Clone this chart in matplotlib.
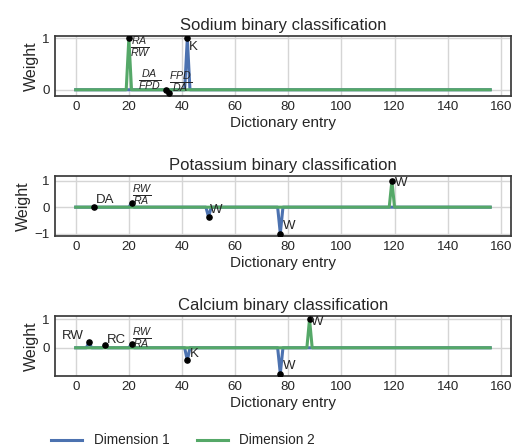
import matplotlib
matplotlib.use("Agg")
import matplotlib.pyplot as plt
import numpy as np

plt.rcParams['font.family'] = ['Liberation Sans', 'DejaVu Sans']
plt.rcParams['mathtext.fontset'] = 'custom'
plt.rcParams['mathtext.it'] = 'Liberation Sans:italic'
plt.rcParams['mathtext.rm'] = 'Liberation Sans'
plt.rcParams['text.color'] = '#262626'
plt.rcParams['axes.labelcolor'] = '#262626'
plt.rcParams['xtick.color'] = '#262626'
plt.rcParams['ytick.color'] = '#262626'

n_entries = 157
titles = ['Sodium binary classification',
          'Potassium binary classification',
          'Calcium binary classification']

# non-zero weights (entry -> weight), everything else is zero
sodium_dim1 = {34: -0.01, 35: -0.07, 42: 1.0}
sodium_dim2 = {20: 1.0}
potassium_dim1 = {7: 0.02, 21: 0.15, 50: -0.37, 77: -1.0}
potassium_dim2 = {119: 1.0}
calcium_dim1 = {5: 0.19, 11: 0.08, 21: 0.13, 42: -0.44, 77: -0.9}
calcium_dim2 = {88: 1.0}

# highlighted entries and their labels
sodium_labels = {20: r'$\frac{RA}{RW}$', 34: r'$\frac{DA}{FPD}$',
                 35: r'$\frac{FPD}{DA}$', 42: 'K'}
potassium_labels = {7: 'DA', 21: r'$\frac{RW}{RA}$', 50: 'W', 77: 'W', 119: 'W'}
calcium_labels = {5: 'RW', 11: 'RC', 21: r'$\frac{RW}{RA}$', 42: 'K', 77: 'W', 88: 'W'}

panels = [(sodium_dim1, sodium_dim2, sodium_labels),
          (potassium_dim1, potassium_dim2, potassium_labels),
          (calcium_dim1, calcium_dim2, calcium_labels)]

# layout: label centre offsets from the dot (dx, dy) in data units
label_offsets = [
    {20: (4.2, -0.17), 34: (-6.1, 0.19), 35: (4.6, 0.2), 42: (2.3, -0.17)},
    {7: (4.2, 0.25), 21: (4.2, 0.3), 50: (3.0, 0.25), 77: (3.2, 0.3), 119: (3.4, -0.07)},
    {5: (-6.2, 0.21), 11: (4.5, 0.2), 21: (4.2, 0.18), 42: (2.7, 0.21), 77: (3.2, 0.26), 88: (3.0, -0.1)},
]
ylims = [(-0.12, 1.05), (-1.09, 1.19), (-0.98, 1.115)]
yticks = [[0, 1], [-1, 0, 1], [0, 1]]

blue = '#4c72b0'
green = '#55a868'

fig, axes = plt.subplots(3, 1, figsize=(5.14, 4.48), dpi=100)
fig.subplots_adjust(left=0.107, right=0.994, top=0.92, bottom=0.161, hspace=1.33)

x = np.arange(n_entries)
for i, ax in enumerate(axes):
    d1, d2, labels = panels[i]
    y1 = np.zeros(n_entries)
    y2 = np.zeros(n_entries)
    for k, v in d1.items():
        y1[k] = v
    for k, v in d2.items():
        y2[k] = v
    l1, = ax.plot(x, y1, color=blue, lw=2.2, label='Dimension 1')
    l2, = ax.plot(x, y2, color=green, lw=2.2, label='Dimension 2')

    for k, lab in labels.items():
        yv = y1[k] if y1[k] != 0 else y2[k]
        ax.scatter([k], [yv], s=14, color='black', zorder=5)
        dx, dy = label_offsets[i][k]
        fs = 11 if lab.startswith('$') else 9.5
        ax.text(k + dx, yv + dy, lab, ha='center', va='center', fontsize=fs,
                color='#262626', zorder=6)

    ax.set_title(titles[i], fontsize=12, pad=4)
    ax.set_xlabel('Dictionary entry', fontsize=11, labelpad=2)
    ax.set_ylabel('Weight', fontsize=11.5, labelpad=2)
    ax.set_ylim(*ylims[i])
    ax.set_yticks(yticks[i])
    ax.set_xticks(range(0, 161, 20))
    ax.tick_params(labelsize=9.6, length=0, pad=4)
    ax.grid(True, color='#d5d5d5', lw=1)
    ax.set_axisbelow(True)
    for sp in ax.spines.values():
        sp.set_color('#3a3a3a')
        sp.set_linewidth(1.25)

fig.legend([l1, l2], ['Dimension 1', 'Dimension 2'], loc='center left',
           bbox_to_anchor=(0.075, 0.017), ncol=2, frameon=False, fontsize=9.8,
           handlelength=2.3, handletextpad=0.85, columnspacing=2.0)

fig.savefig('out.png', dpi=100)
